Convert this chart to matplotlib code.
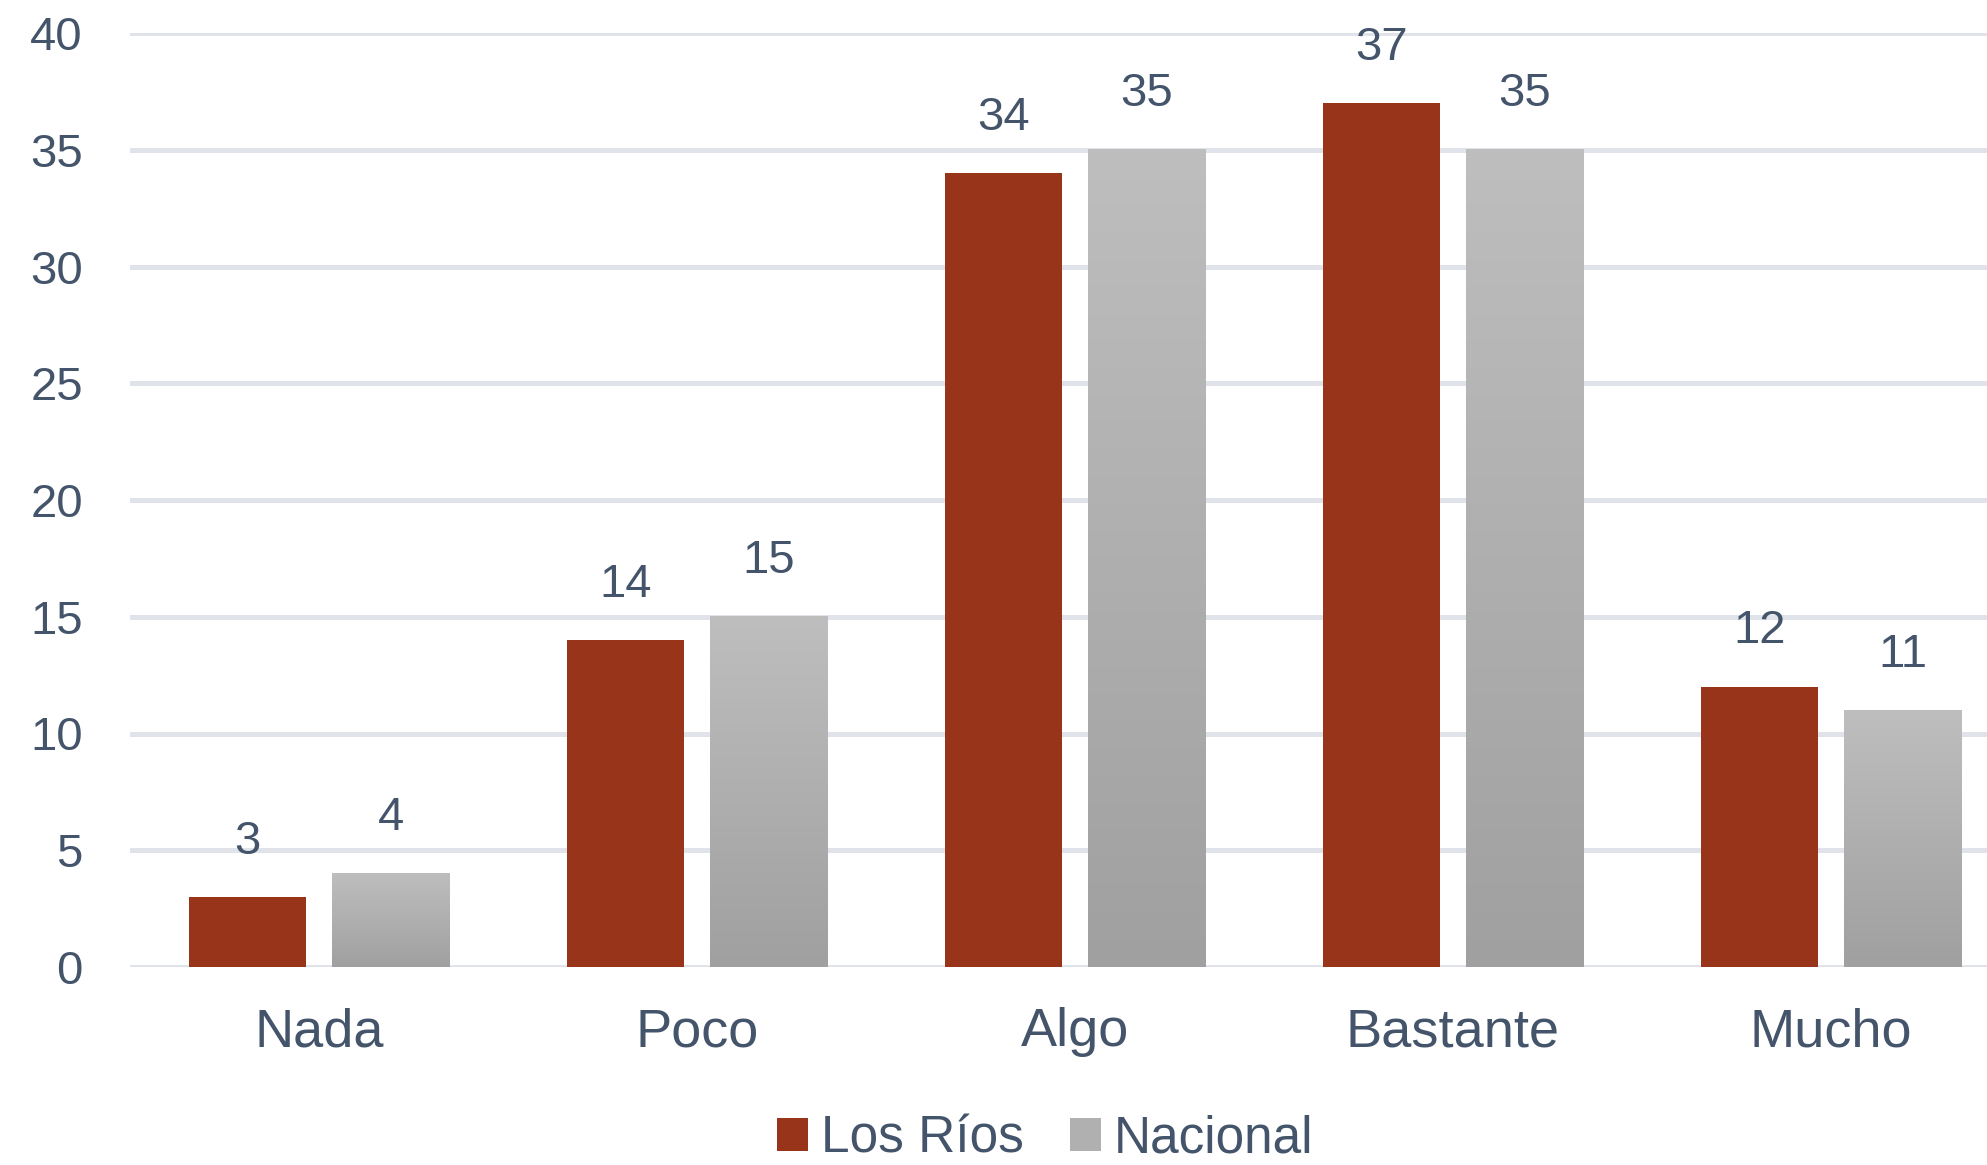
import numpy as np
import matplotlib
matplotlib.use("Agg")
import matplotlib.pyplot as plt
from matplotlib.patches import Patch

# Data
categorias = ["Nada", "Poco", "Algo", "Bastante", "Mucho"]
los_rios = [3, 14, 34, 37, 12]
nacional = [4, 15, 35, 35, 11]
y_ticks = [0, 5, 10, 15, 20, 25, 30, 35, 40]

# Style
rojo = "#973419"
gris_top = np.array([190, 190, 190]) / 255
gris_bot = np.array([160, 160, 160]) / 255
texto = "#44546A"
grid_col = "#E0E4EA"

plt.rcParams["font.family"] = ["Liberation Sans", "DejaVu Sans"]

fig = plt.figure(figsize=(19.87, 11.65), dpi=100)
ax = fig.add_axes([130 / 1987, 1 - 967 / 1165, 1890 / 1987, (967 - 33) / 1165])

x = np.arange(len(categorias))
w = 0.31
off = 0.19

ax.bar(x - off, los_rios, width=w, color=rojo, zorder=3)

# gray bars with vertical gradient
grad = np.linspace(0, 1, 256).reshape(-1, 1, 1)
grad_img = gris_top * (1 - grad) + gris_bot * grad
for xi, v in zip(x, nacional):
    ax.imshow(grad_img, extent=(xi + off - w / 2, xi + off + w / 2, 0, v),
              aspect="auto", origin="upper", zorder=3, interpolation="bilinear")

# value labels
for xi, v in zip(x, los_rios):
    ax.annotate(str(v), (xi - off, v), xytext=(0, 24), textcoords="offset points",
                ha="center", va="bottom", fontsize=34, color=texto)
for xi, v in zip(x, nacional):
    ax.annotate(str(v), (xi + off, v), xytext=(0, 24), textcoords="offset points",
                ha="center", va="bottom", fontsize=34, color=texto)

ax.set_xlim(-0.5, len(categorias) - 0.5)
ax.set_ylim(0, 40)
ax.set_yticks(y_ticks)
ax.set_xticks(x)
ax.set_xticklabels(categorias)

ax.grid(axis="y", color=grid_col, linewidth=3.6, zorder=0)
ax.set_axisbelow(True)
for s in ax.spines.values():
    s.set_visible(False)
ax.tick_params(axis="y", length=0, pad=34, labelsize=34, labelcolor=texto)
ax.tick_params(axis="x", length=0, pad=29, labelsize=39, labelcolor=texto)

handles = [Patch(facecolor=rojo, label="Los Ríos"),
           Patch(facecolor="#B0B0B0", label="Nacional")]
fig.legend(handles=handles, loc="center", bbox_to_anchor=(1045 / 1987, 1 - 1139 / 1165),
           ncol=2, frameon=False, fontsize=37, labelcolor=texto,
           handlelength=0.6, handleheight=0.6, handletextpad=0.25, columnspacing=0.9)

fig.savefig("out.png", dpi=100)
